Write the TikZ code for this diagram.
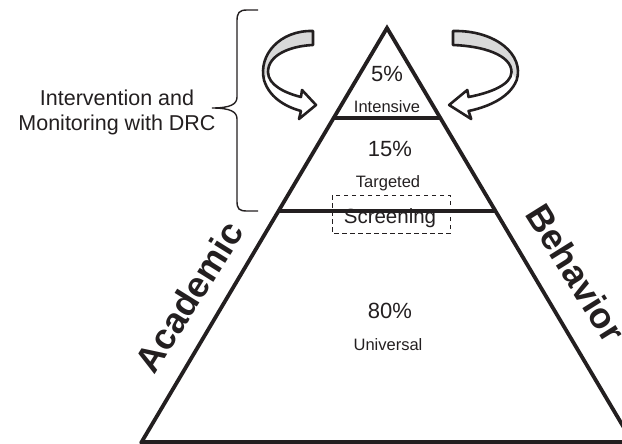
\documentclass[tikz,border=0pt]{standalone}
\usepackage{fontspec}
\setmainfont{Liberation Sans}
\usetikzlibrary{calc}
\definecolor{ink}{HTML}{231F20}
\definecolor{ribbon}{HTML}{D9D9D9}
\tikzset{
  edge/.style={line width=3.8pt, draw=ink, line cap=round},
  tierline/.style={line width=3.4pt, draw=ink},
  bracestyle/.style={line width=1.4pt, draw=ink},
  pct/.style={font=\fontsize{22}{24}\selectfont, text=ink, inner sep=0pt, anchor=base},
  tier/.style={font=\fontsize{16.5}{18}\selectfont, text=ink, inner sep=0pt, anchor=base},
  side/.style={font=\fontsize{36}{38}\selectfont\bfseries, text=ink, inner sep=0pt},
  ribbonline/.style={line width=2.6pt, draw=ink, line join=round},
}
\begin{document}
\begin{tikzpicture}[x=1pt,y=-1pt]
\useasboundingbox (0,0) rectangle (622,444);
\clip (0,0) rectangle (622,444);
% pyramid
\coordinate (apex) at (387,28);
\coordinate (bl) at (141,443);
\coordinate (br) at (633,443);
\draw[edge] (bl) -- (apex) -- (br);
\draw[tierline] (141,442) -- (633,442);
\coordinate (i1) at ($(apex)!0.2169!(bl)$);
\coordinate (i2) at ($(apex)!0.2169!(br)$);
\coordinate (s1) at ($(apex)!0.4410!(bl)$);
\coordinate (s2) at ($(apex)!0.4410!(br)$);
\draw[tierline] (i1) -- (i2);
\draw[tierline] (s1) -- (s2);
% screening box
\draw[ink, line width=1pt, dash pattern=on 4.5pt off 3.5pt] (332,195) rectangle (450,233);
% texts
\node[pct] (p5) at (387,82) {5\%};
\node[tier] (t5) at (387,113) {Intensive};
\node[pct] (p15) at (390,157) {15\%};
\node[tier] (t15) at (388,187) {Targeted};
\node[font=\fontsize{20.5}{22}\selectfont, text=ink, inner sep=0pt, anchor=base] (scr) at (390,223) {Screening};
\node[pct] (p80) at (390,318) {80\%};
\node[tier] (t80) at (388,350) {Universal};
\node[side, rotate=58] (acad) at (189,297) {Academic};
\node[side, rotate=-58] (beh) at (576,273) {Behavior};
% brace
\draw[bracestyle] (258,10) -- (247,10) .. controls (239,10) and (237,13) .. (237,21) -- (237,97)
  .. controls (237,104) and (231,108) .. (212,108)
  .. controls (231,108) and (237,112) .. (237,119) -- (237,201)
  .. controls (237,209) and (239,211) .. (247,211) -- (258,211);
\node[font=\fontsize{21.5}{25}\selectfont, text=ink, align=center, inner sep=0pt, anchor=base] (lbl) at (117,131) {Intervention and\\Monitoring with DRC};
% ribbon arrows
\foreach \nm/\sx/\sc in {la/313/1, ra/453/-1.3} {
\begin{scope}[shift={(\sx,31)}, xscale=\sc]
  \fill[white] (0,0) .. controls (-33,-1) and (-55,24) .. (-49,49) .. controls (-43,69) and (-23,77) .. (-12,80)
    -- (-14,88) -- (3,74) -- (-11,59) -- (-12,66)
    .. controls (-28,62) and (-45,54) .. (-45,41) .. controls (-45,24) and (-23,15) .. (0,14) -- cycle;
  \fill[ribbon] (0,0) .. controls (-33,-1) and (-55,24) .. (-49,49)
    .. controls (-47,45) and (-46,43) .. (-45,41) .. controls (-45,24) and (-23,15) .. (0,14) -- cycle;
  \draw[ribbonline] (0,0) .. controls (-33,-1) and (-55,24) .. (-49,49) .. controls (-43,69) and (-23,77) .. (-12,80)
    -- (-14,88) -- (3,74) -- (-11,59) -- (-12,66)
    .. controls (-28,62) and (-45,54) .. (-45,41) .. controls (-45,24) and (-23,15) .. (0,14) -- cycle;
\end{scope}
}
\end{tikzpicture}
\end{document}
